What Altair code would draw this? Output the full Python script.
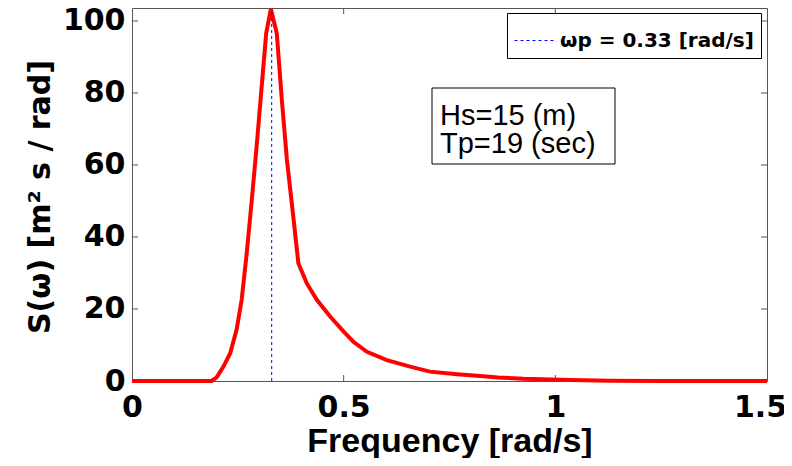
import altair as alt
import pandas as pd

# ---- data ----
freq = [0.0, 0.10, 0.188, 0.200, 0.216, 0.232, 0.247, 0.259, 0.271, 0.283, 0.295,
        0.307, 0.317, 0.328, 0.342, 0.354, 0.366, 0.381, 0.393, 0.413, 0.437,
        0.468, 0.500, 0.523, 0.555, 0.602, 0.657, 0.704, 0.768, 0.823, 0.865,
        0.925, 1.035, 1.13, 1.25, 1.5]
spec = [0.0, 0.0, 0.0, 1.0, 4.0, 7.7, 14.2, 22.5, 35.5, 50.3, 66.0,
        82.7, 96.6, 103.3, 96.6, 78.0, 61.4, 45.6, 32.7, 27.1, 22.5,
        17.9, 13.7, 10.9, 8.1, 5.8, 4.0, 2.6, 1.9, 1.4, 1.0,
        0.6, 0.3, 0.1, 0.0, 0.0]
wp = 0.33
Hs = 15
Tp = 19
x_ticks = [0, 0.5, 1, 1.5]
y_ticks = [0, 20, 40, 60, 80, 100]
x_inner_ticks = [0.5, 1.0]
y_inner_ticks = [20, 40, 60, 80, 100]
x_title = "Frequency [rad/s]"
y_title = "S(ω) [m² s / rad]"

W, H = 635, 373
XDOM = [0, 1.5]
YDOM = [0, 103.6]

curve = pd.DataFrame({"freq": freq, "S": spec})
peak_df = pd.DataFrame({"freq": [wp], "S": [0.0], "S2": [max(spec)],
                        "label": [f"ωp = {wp:.2f} [rad/s]"]})
xt = pd.DataFrame({"freq": x_inner_ticks})
yt = pd.DataFrame({"S": y_inner_ticks})

xs = alt.Scale(domain=XDOM, nice=False, zero=False)
ys = alt.Scale(domain=YDOM, nice=False)

line = alt.Chart(curve).mark_line(color="#ff0000", strokeWidth=4).encode(
    x=alt.X("freq:Q", scale=xs, title=x_title,
            axis=alt.Axis(values=x_ticks, format="~g", grid=False, domain=False,
                          ticks=False, tickSize=0, labelPadding=11,
                          labelOffset={"condition": {"test": "datum.value == 1.5", "value": -7},
                                       "value": 0},
                          labelFont="DejaVu Sans", labelFontSize=30,
                          labelFontWeight="bold", labelColor="black",
                          labelFlush=False, labelOverlap=False,
                          titleFont="Liberation Sans", titleFontSize=34,
                          titleFontWeight="bold", titleColor="black",
                          titleY=70, titleBaseline="alphabetic")),
    y=alt.Y("S:Q", scale=ys, title=None,
            axis=alt.Axis(values=y_ticks, grid=False, domain=False,
                          ticks=False, tickSize=0, labelPadding=7,
                          labelFont="DejaVu Sans", labelFontSize=30,
                          labelFontWeight="bold", labelColor="black",
                          labelFlush=False, labelOverlap=False)),
    order=alt.Order("freq:Q"),
)

ytitle = alt.Chart(pd.DataFrame({"a": [0]})).mark_text(
    font="DejaVu Sans", fontSize=30, fontWeight="bold", color="black",
    angle=270, align="center", baseline="alphabetic").encode(
    x=alt.value(-82), y=alt.value(189), text=alt.value(y_title))

peak = alt.Chart(peak_df).mark_rule(strokeWidth=1, strokeDash=[3, 3]).encode(
    x=alt.X("freq:Q", scale=xs),
    y=alt.Y("S:Q", scale=ys),
    y2="S2:Q",
    color=alt.Color("label:N", scale=alt.Scale(range=["#0000ff"]),
                    legend=alt.Legend(title=None, orient="none",
                                      legendX=375, legendY=5,
                                      strokeColor="black", fillColor="white",
                                      padding=7, symbolType="stroke",
                                      symbolSize=1600, symbolStrokeWidth=1,
                                      symbolDash=[3, 3], labelOffset=5,
                                      labelFont="DejaVu Sans", labelFontSize=20,
                                      labelFontWeight="bold", labelColor="black",
                                      labelLimit=400)),
)

tick_style = dict(color="#555555", strokeWidth=1)
xt_bottom = alt.Chart(xt).mark_rule(**tick_style).encode(
    x=alt.X("freq:Q", scale=xs), y=alt.value(H), y2=alt.value(H - 6))
xt_top = alt.Chart(xt).mark_rule(**tick_style).encode(
    x=alt.X("freq:Q", scale=xs), y=alt.value(0), y2=alt.value(6))
yt_left = alt.Chart(yt).mark_rule(**tick_style).encode(
    y=alt.Y("S:Q", scale=ys), x=alt.value(0), x2=alt.value(6))
yt_right = alt.Chart(yt).mark_rule(**tick_style).encode(
    y=alt.Y("S:Q", scale=ys), x=alt.value(W), x2=alt.value(W - 6))

box = alt.Chart(pd.DataFrame({"a": [0]})).mark_rect(
    fill="white", stroke="black", strokeWidth=1).encode(
    x=alt.value(300), x2=alt.value(483), y=alt.value(80), y2=alt.value(156))
txt = alt.Chart(pd.DataFrame({"a": [0]})).mark_text(
    align="left", baseline="alphabetic", font="Liberation Sans", fontSize=29,
    color="black", lineHeight=28).encode(
    x=alt.value(308), y=alt.value(117),
    text=alt.value([f"Hs={Hs} (m)", f"Tp={Tp} (sec)"]))

chart = alt.layer(line, peak, xt_bottom, xt_top, yt_left, yt_right, box, txt, ytitle).properties(
    width=W, height=H,
    autosize=alt.AutoSizeParams(type="none"),
    padding={"left": 124, "top": 0, "right": 17, "bottom": 77},
    background="white",
).configure_view(stroke="#555555", strokeWidth=1)

chart.save("out.html", embed_options={"renderer": "svg", "actions": False})
